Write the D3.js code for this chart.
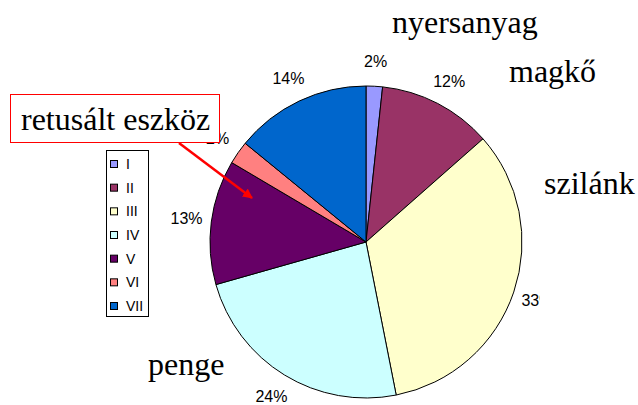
<!DOCTYPE html>
<html>
<head>
<meta charset="utf-8">
<script src="https://d3js.org/d3.v7.min.js"></script>
<style>
    body { margin: 0; background: #fff; }
    .pct { font: 16px "Liberation Sans", Arial, sans-serif; fill: #000; }
    .legend text { font: 14px "Liberation Sans", Arial, sans-serif; }
    .big { font: 32px "Liberation Serif", "Times New Roman", serif; fill: #000; }
</style>
</head>
<body>
<script>
    // chart data
    var categories = ["I", "II", "III", "IV", "V", "VI", "VII"];
    var values = [1.7, 11.8, 33.4, 23.7, 12.9, 2.4, 14.1];
    var colors = ["#9999FF", "#993366", "#FFFFCC", "#CCFFFF", "#660066", "#FF8080", "#0066CC"];
    var bigLabels = [
        { text: "nyersanyag", x: 392, y: 33 },
        { text: "magkő", x: 509, y: 82 },
        { text: "szilánk", x: 544, y: 194 },
        { text: "penge", x: 148, y: 375 }
    ];

    var width = 638, height = 405;
    var cx = 366, cy = 242, radius = 156;

    var svg = d3.select("body").append("svg")
        .attr("width", width)
        .attr("height", height);

    svg.append("defs").append("clipPath")
        .attr("id", "plotClip")
        .append("rect")
        .attr("x", 0).attr("y", 0)
        .attr("width", 540).attr("height", height);

    var pie = d3.pie().sort(null).value(function (d) { return d; });
    var arcs = pie(values);

    var arc = d3.arc().innerRadius(0).outerRadius(radius);
    var labelArc = d3.arc().innerRadius(181).outerRadius(181);

    var g = svg.append("g")
        .attr("transform", "translate(" + cx + "," + cy + ")");

    g.selectAll("path")
        .data(arcs)
        .enter().append("path")
        .attr("d", arc)
        .attr("fill", function (d, i) { return colors[i]; })
        .attr("stroke", "#000")
        .attr("stroke-width", 1);

    // percentage labels (clipped at the plot edge like the original)
    svg.append("g")
        .attr("clip-path", "url(#plotClip)")
        .append("g")
        .attr("transform", "translate(" + cx + "," + cy + ")")
        .selectAll("text")
        .data(arcs)
        .enter().append("text")
        .attr("class", "pct")
        .attr("transform", function (d) { return "translate(" + labelArc.centroid(d) + ")"; })
        .attr("text-anchor", "middle")
        .attr("dy", "0.35em")
        .text(function (d) { return Math.round(d.value) + "%"; });

    // legend
    var legend = svg.append("g").attr("class", "legend");
    legend.append("rect")
        .attr("x", 106.5).attr("y", 150.5)
        .attr("width", 42).attr("height", 166)
        .attr("fill", "#fff")
        .attr("stroke", "#000")
        .attr("stroke-width", 1);

    var ly = d3.scalePoint().domain(categories).range([164, 306]);

    var items = legend.selectAll(".item")
        .data(categories)
        .enter().append("g")
        .attr("class", "item")
        .attr("transform", function (d) { return "translate(0," + ly(d) + ")"; });

    items.append("rect")
        .attr("x", 110.5).attr("y", -3.5)
        .attr("width", 7).attr("height", 7)
        .attr("fill", function (d, i) { return colors[i]; })
        .attr("stroke", "#000")
        .attr("stroke-width", 1);

    items.append("text")
        .attr("x", 126)
        .attr("dy", "0.35em")
        .text(function (d) { return d; });

    // big category names
    svg.selectAll(".big")
        .data(bigLabels)
        .enter().append("text")
        .attr("class", "big")
        .attr("x", function (d) { return d.x; })
        .attr("y", function (d) { return d.y; })
        .text(function (d) { return d.text; });

    // callout box with arrow
    svg.append("defs").append("marker")
        .attr("id", "arrowHead")
        .attr("viewBox", "0 0 10 10")
        .attr("refX", 9).attr("refY", 5)
        .attr("markerWidth", 4).attr("markerHeight", 4)
        .attr("orient", "auto")
        .append("path")
        .attr("d", "M0,0L10,5L0,10z")
        .attr("fill", "#FF0000");

    svg.append("line")
        .attr("x1", 179).attr("y1", 143)
        .attr("x2", 252).attr("y2", 198)
        .attr("stroke", "#FF0000")
        .attr("stroke-width", 2.5)
        .attr("marker-end", "url(#arrowHead)");

    svg.append("rect")
        .attr("x", 10.5).attr("y", 94.5)
        .attr("width", 209).attr("height", 48)
        .attr("fill", "#fff")
        .attr("stroke", "#FF0000")
        .attr("stroke-width", 1);

    svg.append("text")
        .attr("class", "big")
        .attr("x", 21).attr("y", 130)
        .text("retusált eszköz");
</script>
</body>
</html>
